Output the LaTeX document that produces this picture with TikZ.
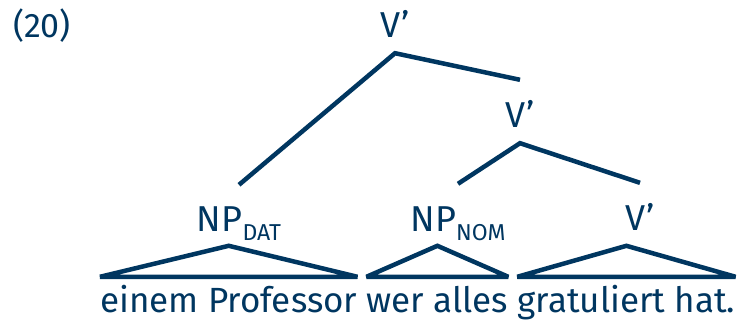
\documentclass[tikz,border=0pt]{standalone}
\usepackage{fontspec}
\setmainfont{Fira Sans}
\usetikzlibrary{positioning}
\definecolor{treeblue}{RGB}{0,54,96}
\newcommand{\catsub}[1]{\raisebox{-9pt}{\fontsize{23}{24}\selectfont #1}}

\tikzset{
  cat/.style={font=\fontsize{36}{40}\selectfont, text=treeblue, inner sep=0pt,
              text height=26pt, text depth=0pt, anchor=base},
  word/.style={font=\fontsize{35}{40}\selectfont, text=treeblue, inner sep=0pt,
              text height=26pt},
  branch/.style={line width=4.5pt, treeblue, line join=miter},
  roof/.style={line width=4.5pt, treeblue, line join=miter, miter limit=4}
}

\begin{document}
\begin{tikzpicture}[x=1pt,y=-1pt]
\useasboundingbox (0,0) rectangle (755,321);

\node [cat, font=\fontsize{34}{40}\selectfont] (num) at (42,38) {(20)};

% categories
\node [cat] (vtop)  at (395,38)  {V'};
\node [cat] (vmid)  at (520,127) {V'};
\node [cat] (npdat) at (239,231) {NP\catsub{DAT}};
\node [cat] (npnom) at (458,231) {NP\catsub{NOM}};
\node [cat] (vlow)  at (640,230) {V'};

% sentence
\node [word, anchor=base west] (wdat) at (100,312) {einem Professor};
\node [word, base right=9pt of wdat] (wnom) {wer alles};
\node [word, base right=9pt of wnom] (wv)   {gratuliert hat.};

\draw [branch] ([yshift=20pt]npdat.north) -- ([yshift=-15pt]vtop.south)
    -- ([yshift=21pt]vmid.north);
\draw [branch] ([yshift=21pt]npnom.north) -- ([yshift=-16pt]vmid.south)
    -- ([yshift=21pt]vlow.north);

\foreach \w in {wdat,wnom,wv}
  \draw [roof] ([yshift=9pt]\w.north west) -- ([yshift=40pt]\w.north)
      -- ([yshift=9pt]\w.north east) -- cycle;

\end{tikzpicture}
\end{document}
